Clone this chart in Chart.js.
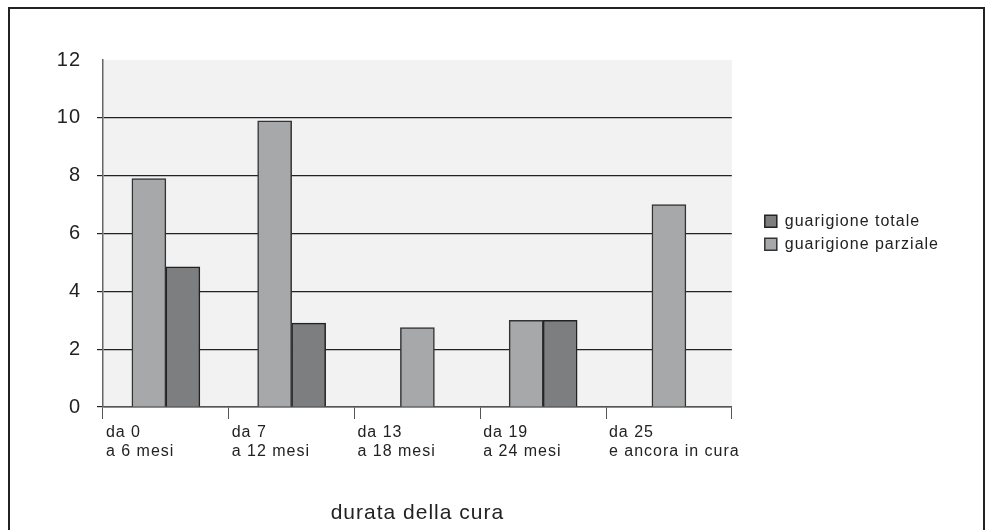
<!DOCTYPE html>
<html>
<head>
<meta charset="utf-8">
<script src="https://cdn.jsdelivr.net/npm/chart.js@4"></script>
<style>
    body { margin: 0; background: #fff; }
    #wrap { position: relative; width: 990px; height: 530px; }
    #frame {
        position: absolute; left: 8px; top: 7px; right: 5px; bottom: -2px;
        border: 2px solid #222; border-bottom: none; pointer-events: none;
    }
</style>
</head>
<body>
<div id="wrap">
    <canvas id="myChart" width="990" height="530"></canvas>
    <div id="frame"></div>
</div>
<script>
const categories = [
    ['da 0', 'a 6 mesi'],
    ['da 7', 'a 12 mesi'],
    ['da 13', 'a 18 mesi'],
    ['da 19', 'a 24 mesi'],
    ['da 25', 'e ancora in cura'],
];
const parziale = [7.9, 9.9, 2.75, 3.0, 7.0];
const totale = [4.85, 2.9, null, 3.0, null];
const yTicks = [0, 2, 4, 6, 8, 10, 12];

const FONT = 'Liberation Sans';

// grey plot background + slightly wider lettering like the original
const plotBackground = {
    id: 'plotBackground',
    beforeUpdate(chart) { chart.ctx.letterSpacing = '1px'; },
    beforeDraw(chart) {
        const { ctx, chartArea } = chart;
        ctx.letterSpacing = '1px';
        ctx.save();
        ctx.fillStyle = '#f2f2f2';
        ctx.fillRect(chartArea.left, chartArea.top, chartArea.right - chartArea.left, chartArea.bottom - chartArea.top);
        ctx.restore();
    }
};

const data = {
    labels: categories,
    datasets: [{
        label: 'guarigione parziale',
        data: parziale,
        backgroundColor: '#a7a8aa',
        borderColor: '#333',
        borderWidth: 1.5,
    }, {
        label: 'guarigione totale',
        data: totale,
        backgroundColor: '#7d7e80',
        borderColor: '#222',
        borderWidth: 1.5,
    }]
};

const config = {
    type: 'bar',
    data: data,
    plugins: [plotBackground],
    options: {
        responsive: false,
        animation: false,
        skipNull: true,
        barThickness: 34,
        layout: { padding: { left: 40, right: 41, top: 60, bottom: 0 } },
        plugins: {
            tooltip: { enabled: false },
            legend: {
                position: 'right',
                align: 'start',
                reverse: true,
                maxWidth: 400,
                title: { display: true, text: ' ', font: { size: 1 }, padding: { top: 145, bottom: 0 } },
                labels: {
                    boxWidth: 12,
                    boxHeight: 12,
                    padding: 7,
                    color: '#222',
                    font: { family: FONT, size: 16 },
                },
            },
        },
        scales: {
            x: {
                grid: { display: true, drawOnChartArea: false, color: '#555', tickLength: 12, offset: true },
                border: { color: '#555', width: 1.5 },
                ticks: {
                    align: 'start',
                    labelOffset: -60,
                    padding: 4,
                    autoSkip: false,
                    minRotation: 0,
                    maxRotation: 0,
                    color: '#222',
                    font: { family: FONT, size: 16, lineHeight: 1.2 },
                },
                title: {
                    display: true,
                    text: 'durata della cura',
                    color: '#222',
                    font: { family: FONT, size: 21 },
                },
                afterFit(scale) { scale.height = 123; },
            },
            y: {
                min: 0,
                max: 12,
                afterBuildTicks(scale) { scale.ticks = yTicks.map(v => ({ value: v })); },
                grid: {
                    color: ctx => (ctx.tick && ctx.tick.value === 12) ? 'rgba(0,0,0,0)' : '#222',
                    lineWidth: 1.2,
                    tickLength: 6,
                },
                border: { color: '#666', width: 1.5 },
                ticks: {
                    padding: 16,
                    color: '#222',
                    font: { family: FONT, size: 20 },
                },
                afterFit(scale) { scale.width = 63; },
            },
            // empty spacer between plot and legend
            gap: {
                position: 'right',
                display: true,
                grid: { display: false },
                border: { display: false },
                ticks: { display: false },
                afterFit(scale) { scale.width = 26; },
            },
        },
    },
};

const myChart = new Chart(
    document.getElementById('myChart'),
    config
);
</script>
</body>
</html>
